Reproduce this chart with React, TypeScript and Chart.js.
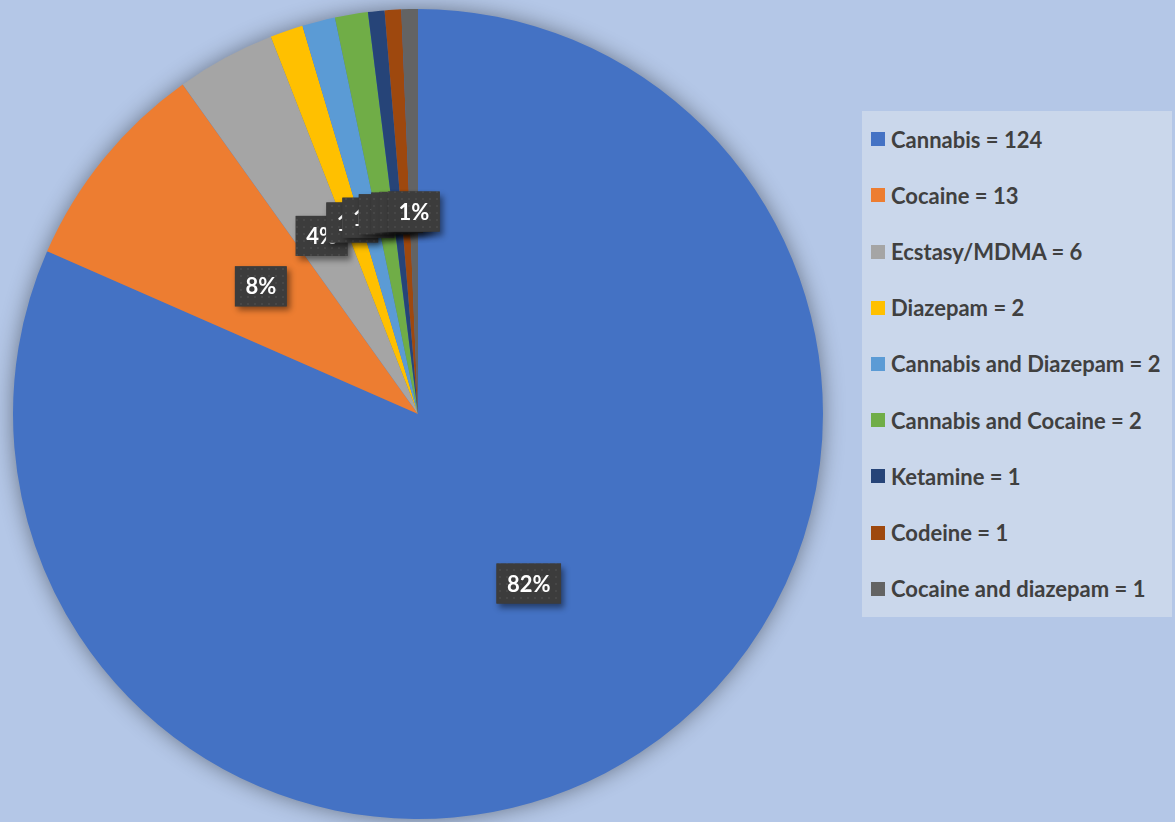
import React, { useEffect, useRef } from "react";
import { Chart, registerables } from "chart.js";

Chart.register(...registerables);

const categories = [
  "Cannabis",
  "Cocaine",
  "Ecstasy/MDMA",
  "Diazepam",
  "Cannabis and Diazepam",
  "Cannabis and Cocaine",
  "Ketamine",
  "Codeine",
  "Cocaine and diazepam",
];
const counts = [124, 13, 6, 2, 2, 2, 1, 1, 1];
const percentLabels = ["82%", "8%", "4%", "1%", "1%", "1%", "1%", "1%", "1%"];
const colors = [
  "#4472C4",
  "#ED7D31",
  "#A5A5A5",
  "#FFC000",
  "#5B9BD5",
  "#70AD47",
  "#264478",
  "#9E480E",
  "#636363",
];

const FONT = "Lato, 'Open Sans', sans-serif";

function makePattern(ctx: CanvasRenderingContext2D) {
  const c = document.createElement("canvas");
  c.width = 7;
  c.height = 7;
  const p = c.getContext("2d")!;
  p.fillStyle = "#3c3c3c";
  p.fillRect(0, 0, 7, 7);
  p.fillStyle = "#474747";
  p.fillRect(2, 2, 2, 2);
  return ctx.createPattern(c, "repeat") || "#3c3c3c";
}

const pieShadow = {
  id: "pieShadow",
  beforeDatasetsDraw(chart: any) {
    const meta = chart.getDatasetMeta(0);
    const arc = meta.data[0];
    if (!arc) return;
    const ctx = chart.ctx as CanvasRenderingContext2D;
    ctx.save();
    ctx.beginPath();
    ctx.arc(arc.x, arc.y, arc.outerRadius - 1, 0, Math.PI * 2);
    ctx.shadowColor = "rgba(0,0,0,0.45)";
    ctx.shadowBlur = 22;
    ctx.shadowOffsetX = 0;
    ctx.shadowOffsetY = 0;
    ctx.fillStyle = "#4472C4";
    ctx.fill();
    ctx.restore();
  },
};

const boxLabels = {
  id: "boxLabels",
  afterDatasetsDraw(chart: any) {
    const meta = chart.getDatasetMeta(0);
    const ctx = chart.ctx as CanvasRenderingContext2D;
    const pattern = makePattern(ctx);
    ctx.save();
    ctx.font = `bold 22px ${FONT}`;
    meta.data.forEach((arc: any, i: number) => {
      const mid = (arc.startAngle + arc.endAngle) / 2;
      const r = arc.outerRadius * 0.5;
      const cx = arc.x + Math.cos(mid) * r;
      const cy = arc.y + Math.sin(mid) * r;
      const text = percentLabels[i];
      const tw = ctx.measureText(text).width;
      const w = tw + 21;
      const h = 40;
      ctx.save();
      ctx.shadowColor = "rgba(0,0,0,0.45)";
      ctx.shadowBlur = 6;
      ctx.shadowOffsetX = 3;
      ctx.shadowOffsetY = 4;
      ctx.fillStyle = "#3c3c3c";
      ctx.fillRect(cx - w / 2, cy - h / 2, w, h);
      ctx.restore();
      ctx.fillStyle = pattern as any;
      ctx.fillRect(cx - w / 2, cy - h / 2, w, h);
      ctx.fillStyle = "#ffffff";
      ctx.textAlign = "center";
      ctx.textBaseline = "middle";
      ctx.fillText(text, cx, cy + 1);
    });
    ctx.restore();
  },
};

export default function App() {
  const ref = useRef<HTMLCanvasElement>(null);

  useEffect(() => {
    if (!ref.current) return;
    const chart = new Chart(ref.current, {
      type: "pie",
      data: {
        labels: categories.map((c, i) => `${c} = ${counts[i]}`),
        datasets: [
          {
            data: counts,
            backgroundColor: colors,
            borderWidth: 0,
          },
        ],
      },
      options: {
        animation: false,
        responsive: false,
        maintainAspectRatio: false,
        layout: { padding: { left: 13, right: 352, top: 9, bottom: 3 } },
        plugins: {
          legend: { display: false },
          tooltip: { enabled: false },
        },
      },
      plugins: [pieShadow, boxLabels],
    });
    return () => chart.destroy();
  }, []);

  return (
    <div
      style={{
        position: "fixed",
        left: 0,
        top: 0,
        width: 1175,
        height: 822,
        background: "#B4C7E7",
        overflow: "hidden",
      }}
    >
      <canvas ref={ref} width={1175} height={822} style={{ position: "absolute", left: 0, top: 0 }} />
      <div
        style={{
          position: "absolute",
          left: 862,
          top: 111,
          width: 310,
          height: 506,
          background: "#CAD7EB",
          fontFamily: FONT,
          fontWeight: 700,
          fontSize: 22,
          color: "#404040",
        }}
      >
        {categories.map((c, i) => (
          <div
            key={c}
            style={{
              height: 506 / 9,
              display: "flex",
              alignItems: "center",
              whiteSpace: "nowrap",
            }}
          >
            <span
              style={{
                display: "inline-block",
                width: 14,
                height: 14,
                background: colors[i],
                marginLeft: 9,
                marginRight: 6,
              }}
            />
            <span>{`${c} = ${counts[i]}`}</span>
          </div>
        ))}
      </div>
    </div>
  );
}
